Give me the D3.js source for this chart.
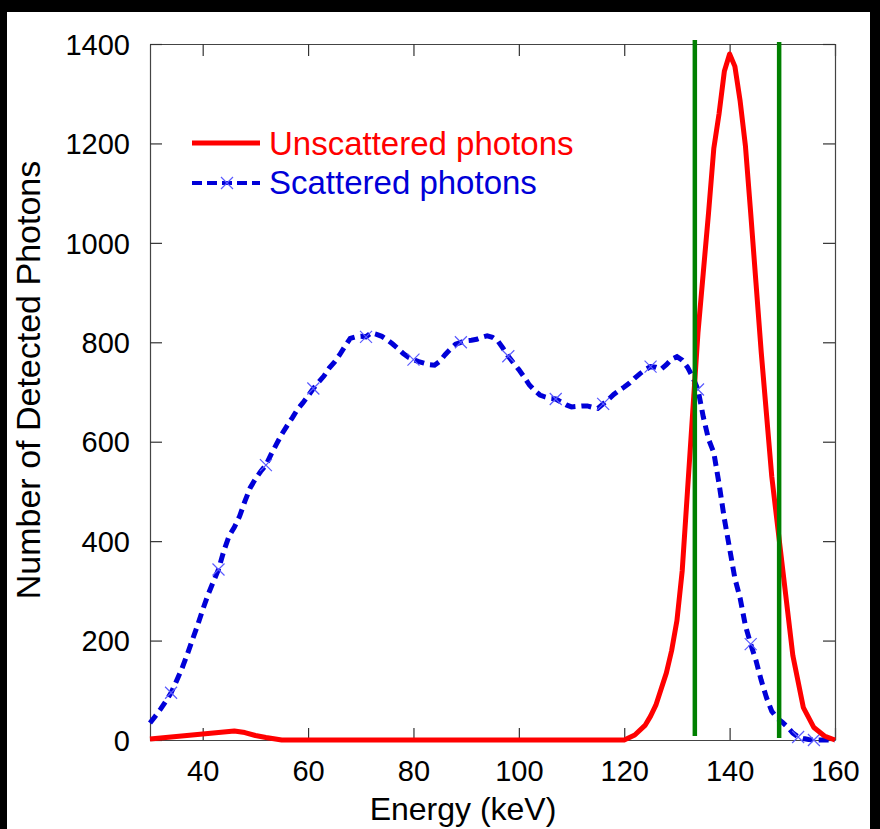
<!DOCTYPE html>
<html>
<head>
<meta charset="utf-8">
<script src="https://cdn.jsdelivr.net/npm/d3@7"></script>
<style>
  body { margin: 0; background: #000; }
  svg { display: block; }
  text { font-family: Arial, 'Liberation Sans', sans-serif; }
</style>
</head>
<body>
<div id="chart"></div>
<script>
const xTicks = [40, 60, 80, 100, 120, 140, 160]
const yTicks = [0, 200, 400, 600, 800, 1000, 1200, 1400]

const unscatteredEnergy = [30, 34, 38, 42, 46, 48, 50, 52, 55, 60, 80, 100, 120, 122, 124, 125, 126, 128, 129, 130, 131, 132, 133, 134, 135, 136, 137, 138, 139, 140, 141, 142, 143, 144, 145, 146, 148, 150, 152, 154, 156, 158, 160]
const unscatteredCount = [2, 6, 10, 14, 18, 15, 9, 5, 0, 0, 0, 0, 0, 10, 30, 48, 70, 135, 180, 240, 340, 500, 660, 820, 940, 1060, 1190, 1260, 1345, 1380, 1355, 1285, 1195, 1060, 920, 780, 530, 350, 170, 65, 25, 8, 0]

const scatteredEnergy = d3.range(30, 161)
const scatteredCount = [
  34, 48, 62, 78, 95, 118, 142, 170, 200, 230,
  262, 292, 318, 343, 380, 410, 428, 450, 480, 507,
  525, 540, 553, 575, 595, 615, 632, 648, 665, 678,
  692, 707, 720, 732, 748, 760, 775, 792, 808, 811,
  812, 811, 819, 816, 812, 805, 797, 788, 778, 770,
  765, 761, 758, 755, 754, 762, 775, 786, 796, 800,
  803, 804, 806, 810, 813, 810, 803, 788, 772, 758,
  745, 730, 714, 703, 694, 690, 687, 686, 680, 674,
  670, 671, 672, 672, 669, 667, 676, 685, 695, 703,
  710, 718, 728, 737, 745, 751, 750, 746, 755, 766,
  771, 764, 750, 730, 705, 650, 605, 578, 515, 445,
  385, 325, 285, 230, 193, 160, 120, 85, 58, 44,
  36, 26, 14, 6, 3, 1, 0, 0, 0, 0,
  0
]
const scatteredMarkers = [34, 43, 52, 61, 71, 80, 89, 98, 107, 116, 125, 134, 144, 153, 156]

const windowEnergy = [133.4, 149.4]
const windowTop = [1408, 1404]
const windowBottom = [8, 4]

const legendLabels = ['Unscattered photons', 'Scattered photons']

const width = 880
const height = 829
const margin = { top: 44, right: 45, bottom: 89, left: 150 }

const svg = d3.select('#chart')
  .append('svg')
  .attr('width', width)
  .attr('height', height)

// white page inside black frame
svg.append('rect')
  .attr('x', 7)
  .attr('y', 12)
  .attr('width', 863)
  .attr('height', height - 12)
  .style('fill', '#fff')

const x = d3.scaleLinear().domain([30, 160]).range([margin.left, width - margin.right])
const y = d3.scaleLinear().domain([0, 1400]).range([height - margin.bottom, margin.top])

const tickLen = 12

const drawAxes = () => {
  const axes = svg.append('g').attr('class', 'axes')

  const bottom = axes.append('g')
    .attr('transform', `translate(0,${y(0)})`)
    .call(d3.axisBottom(x).tickValues(xTicks).tickFormat(d3.format('d')).tickSizeInner(-tickLen).tickSizeOuter(0).tickPadding(20))
  axes.append('g')
    .attr('transform', `translate(0,${y(1400)})`)
    .call(d3.axisTop(x).tickValues(xTicks).tickSizeInner(-tickLen).tickSizeOuter(0).tickFormat(''))
  const left = axes.append('g')
    .attr('transform', `translate(${x(30)},0)`)
    .call(d3.axisLeft(y).tickValues(yTicks).tickFormat(d3.format('d')).tickSizeInner(-tickLen).tickSizeOuter(0).tickPadding(20))
  axes.append('g')
    .attr('transform', `translate(${x(160)},0)`)
    .call(d3.axisRight(y).tickValues(yTicks).tickSizeInner(-tickLen).tickSizeOuter(0).tickFormat(''))

  axes.selectAll('.domain').style('stroke', '#444').style('stroke-width', 1.2)
  axes.selectAll('.tick line').style('stroke', '#333').style('stroke-width', 1.2)
  axes.selectAll('.tick text')
    .style('font-size', '29px')
    .style('fill', '#000')
  bottom.selectAll('.tick text').attr('dy', '0.71em')
  left.selectAll('.tick text').attr('dy', '0.35em')
}

const drawTitles = () => {
  svg.append('text')
    .attr('x', 463)
    .attr('y', 820)
    .attr('text-anchor', 'middle')
    .style('font-size', '32px')
    .style('fill', '#000')
    .text('Energy (keV)')

  svg.append('text')
    .attr('transform', 'translate(40,380) rotate(-90)')
    .attr('text-anchor', 'middle')
    .style('font-size', '34px')
    .style('fill', '#000')
    .text('Number of Detected Photons')
}

const drawSeries = () => {
  const redData = unscatteredEnergy.map((e, i) => [e, unscatteredCount[i]])
  const blueData = scatteredEnergy.map((e, i) => [e, scatteredCount[i]])
  const line = d3.line().x((d) => x(d[0])).y((d) => y(d[1]))

  svg.append('path')
    .datum(blueData)
    .attr('d', line)
    .style('fill', 'none')
    .style('stroke', '#0000d8')
    .style('stroke-width', 5)
    .style('stroke-dasharray', '10,6')

  const markers = blueData.filter((d) => scatteredMarkers.includes(d[0]))
  drawCrosses(svg, markers.map((d) => [x(d[0]), y(d[1])]))

  svg.append('path')
    .datum(redData)
    .attr('d', line)
    .style('fill', 'none')
    .style('stroke', '#ff0000')
    .style('stroke-width', 5)
    .style('stroke-linejoin', 'round')

  svg.selectAll('.window')
    .data(windowEnergy)
    .enter()
    .append('line')
    .attr('class', 'window')
    .attr('x1', (d) => x(d))
    .attr('x2', (d) => x(d))
    .attr('y1', (d, i) => y(windowTop[i]))
    .attr('y2', (d, i) => y(windowBottom[i]))
    .style('stroke', '#008000')
    .style('stroke-width', 4.5)
}

const drawCrosses = (parent, points) => {
  const s = 6
  parent.append('g')
    .selectAll('path')
    .data(points)
    .enter()
    .append('path')
    .attr('d', ([cx, cy]) => `M${cx - s},${cy - s}L${cx + s},${cy + s}M${cx - s},${cy + s}L${cx + s},${cy - s}`)
    .style('stroke', '#5a5aff')
    .style('stroke-width', 1.2)
    .style('fill', 'none')
}

const drawLegend = () => {
  const g = svg.append('g')
  g.append('line')
    .attr('x1', 192).attr('x2', 260).attr('y1', 143).attr('y2', 143)
    .style('stroke', '#ff0000').style('stroke-width', 5)
  g.append('line')
    .attr('x1', 192).attr('x2', 260).attr('y1', 183).attr('y2', 183)
    .style('stroke', '#0000d8').style('stroke-width', 4)
    .style('stroke-dasharray', '10,5')
  drawCrosses(g, [[227, 183]])

  g.selectAll('text')
    .data(legendLabels)
    .enter()
    .append('text')
    .attr('x', 269)
    .attr('y', (d, i) => 155 + i * 39)
    .style('font-size', '33px')
    .style('fill', (d, i) => i === 0 ? '#ff0000' : '#0000d8')
    .text((d) => d)
}

drawAxes()
drawSeries()
drawTitles()
drawLegend()
</script>
</body>
</html>
